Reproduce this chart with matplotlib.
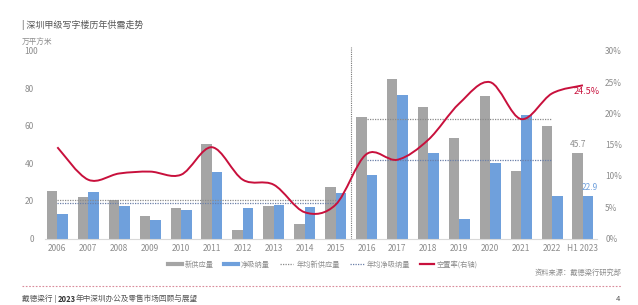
import numpy as np
import matplotlib
matplotlib.use("Agg")
import matplotlib.pyplot as plt
from matplotlib.path import Path
from matplotlib.patches import PathPatch
from matplotlib.lines import Line2D

plt.rcParams['font.family'] = ['Noto Sans CJK SC', 'DejaVu Sans']

years = ['2006', '2007', '2008', '2009', '2010', '2011', '2012', '2013', '2014',
         '2015', '2016', '2017', '2018', '2019', '2020', '2021', '2022', 'H1 2023']
new_supply = [25.4, 22.0, 20.6, 11.9, 16.1, 50.2, 4.4, 17.2, 7.9,
              27.3, 65.0, 84.9, 70.0, 53.6, 76.2, 36.1, 59.8, 45.7]
net_absorption = [12.9, 25.0, 17.2, 10.1, 15.2, 35.2, 16.1, 17.7, 16.8,
                  24.2, 33.6, 76.7, 45.6, 10.3, 40.4, 65.7, 22.4, 22.9]
vacancy = [14.6, 9.4, 10.4, 10.7, 10.2, 14.6, 9.4, 8.6, 4.2,
           5.4, 13.5, 12.6, 15.8, 21.6, 25.0, 19.1, 23.2, 24.5]
# period averages (2006-2015, 2016-2022)
avg_supply = [20.3, 63.7]
avg_absorb = [19.0, 42.1]
periods = [(0, 9), (10, 16)]

grey = '#a5a5a5'
blue = '#6fa0dc'
red = '#c8103c'
txt = '#8c8c8c'

fig = plt.figure(figsize=(6.38, 3.05), dpi=100)
ax = fig.add_axes([0.0705, 0.218, 0.865, 0.615])
ax2 = ax.twinx()

x = np.arange(len(years))
w = 0.34
ax.bar(x - w / 2, new_supply, w, color=grey, zorder=2)
ax.bar(x + w / 2, net_absorption, w, color=blue, zorder=2)

for (a, b), s, n in zip(periods, avg_supply, avg_absorb):
    ax.plot([a, b], [s, s], ls=(0, (1, 1)), color='#8a8a8a', lw=0.9, zorder=3)
    ax.plot([a, b], [n, n], ls=(0, (1, 1)), color='#6a7fa8', lw=0.9, zorder=3)

ax.axvline(9.5, ymin=0, ymax=1.02, ls=(0, (1, 1)), color='#777777', lw=0.8, clip_on=False)

ax.text(x[-1] - w / 2, new_supply[-1] + 2, '45.7', color=txt, fontsize=6, ha='center', va='bottom')
ax.text(x[-1] + w / 2 + 0.05, net_absorption[-1] + 2, '22.9', color=blue, fontsize=6, ha='center', va='bottom')

# smooth vacancy curve (Catmull-Rom -> cubic Bezier)
pts = np.column_stack([x, vacancy]).astype(float)
verts = [pts[0]]
codes = [Path.MOVETO]
for i in range(len(pts) - 1):
    p0 = pts[i - 1] if i > 0 else pts[i]
    p1 = pts[i]
    p2 = pts[i + 1]
    p3 = pts[i + 2] if i + 2 < len(pts) else pts[i + 1]
    c1 = p1 + (p2 - p0) / 6
    c2 = p2 - (p3 - p1) / 6
    verts += [c1, c2, p2]
    codes += [Path.CURVE4] * 3
ax2.add_patch(PathPatch(Path(verts, codes), fill=False, edgecolor=red, lw=1.4, zorder=4))
ax2.text(x[-1] - 0.3, vacancy[-1] - 0.2, '24.5%', color=red, fontsize=6.5, ha='left', va='top')

ax.set_xlim(-0.4, 17.45)
ax.set_ylim(0, 100)
ax2.set_ylim(0, 30)
ax.set_yticks(range(0, 101, 20))
ax.set_yticklabels(['0', '20', '40', '60', '80', ''])
ax2.set_yticks(range(0, 31, 5))
ax2.set_yticklabels([f'{v}%' for v in range(0, 31, 5)])
ax.set_xticks(x)
ax.set_xticklabels(years)

for a in (ax, ax2):
    for sp in a.spines.values():
        sp.set_visible(False)
    a.tick_params(length=0, colors=txt, labelsize=6)
ax.tick_params(axis='x', pad=4)
ax.tick_params(axis='y', pad=8)
ax2.tick_params(axis='y', pad=6)
ax.spines['bottom'].set_visible(True)
ax.spines['bottom'].set_color('#d9d9d9')
ax.spines['bottom'].set_linewidth(0.8)

fig.text(22 / 638, 1 - 25 / 305, '| 深圳甲级写字楼历年供需走势', fontsize=6.5, color='#555555', va='center')
fig.text(22 / 638, 1 - 42 / 305, '万平方米', fontsize=5.5, color=txt, va='center')
fig.text(24 / 638, 1 - 51 / 305, '100', fontsize=6, color=txt, va='center')

handles = [
    Line2D([], [], color=grey, lw=3),
    Line2D([], [], color=blue, lw=3),
    Line2D([], [], color='#8a8a8a', lw=0.9, ls=(0, (1, 1))),
    Line2D([], [], color='#6a7fa8', lw=0.9, ls=(0, (1, 1))),
    Line2D([], [], color=red, lw=1.6),
]
labels = ['新供应量', '净吸纳量', '年均新供应量', '年均净吸纳量', '空置率(右轴)']
leg = fig.legend(handles, labels, loc='center', bbox_to_anchor=(323 / 638, 1 - 265 / 305),
                 ncol=5, frameon=False, fontsize=5.2, handlelength=1.9, handletextpad=0.4,
                 columnspacing=1.4)
for t in leg.get_texts():
    t.set_color(txt)

fig.text(622 / 638, 1 - 273 / 305, '资料来源：戴德梁行研究部', fontsize=5.2, color=txt, ha='right', va='center')

fig.add_artist(Line2D([22 / 638, 622 / 638], [1 - 286 / 305] * 2, color='#d98a9a',
                      lw=0.8, ls=(0, (1.5, 1.5)), transform=fig.transFigure))

# footer pieces placed one after another
fig.canvas.draw()
r = fig.canvas.get_renderer()
xpos = 22
for s, c, wt in [('戴德梁行 | ', '#555555', 'normal'), ('2023', '#333333', 'bold'),
                 ('年中深圳办公及零售市场回顾与展望', '#555555', 'normal')]:
    t = fig.text(xpos / 638, 1 - 299 / 305, s, fontsize=5.5, color=c, va='center', fontweight=wt)
    xpos += t.get_window_extent(r).width
fig.text(620 / 638, 1 - 299 / 305, '4', fontsize=5.5, color='#555555', ha='right', va='center')

fig.savefig('out.png', dpi=100)
